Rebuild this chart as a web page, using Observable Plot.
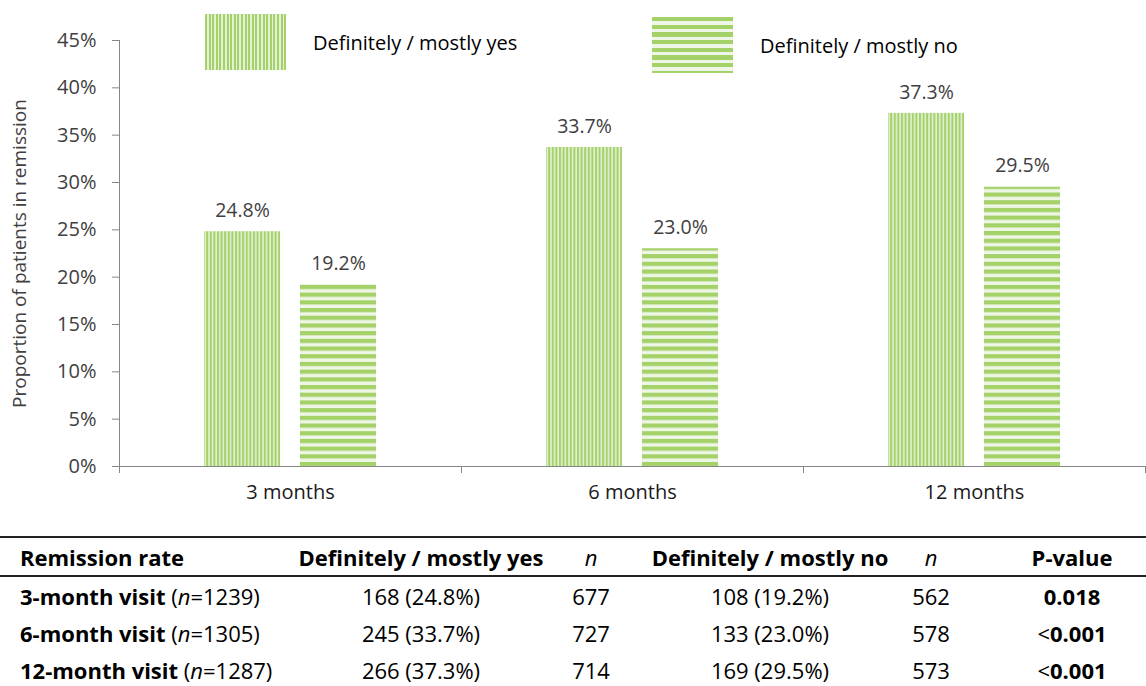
<!DOCTYPE html>
<html>
<head>
<meta charset="utf-8">
<script src="https://cdn.jsdelivr.net/npm/d3@7"></script>
<script src="https://cdn.jsdelivr.net/npm/@observablehq/plot@0.6"></script>
<style>
  html, body { margin: 0; padding: 0; background: #fff; }
  body { font-family: "Open Sans", Lato, sans-serif; width: 1146px; }
  #wrap { position: relative; width: 1146px; }
  .legend-item { position: absolute; display: flex; align-items: center; font-size: 20px; color: #000; }
  .swatch { width: 81px; height: 56px; margin-right: 27px; }
  .sw-yes { background: repeating-linear-gradient(90deg, #a4d168 0 2px, #e3f1d6 2px 3.6px); }
  .sw-no { background: repeating-linear-gradient(180deg, #a4d168 0 4.2px, #eef6e6 4.2px 7.7px); }
  table { border-collapse: collapse; table-layout: fixed; width: 1146px; margin-top: 20px; font-size: 22px; color: #000; }
  th, td { padding: 0; height: 37px; white-space: nowrap; text-align: center; }
  th { font-weight: bold; }
  thead tr { border-top: 2px solid #222; border-bottom: 2px solid #222; }
  .first { text-align: left; padding-left: 20px; }
  .pcol { padding-left: 46px; }
</style>
</head>
<body>
<div id="wrap"></div>
<script>
// Time points and response groups
const months = ["3 months", "6 months", "12 months"];
const groups = ["Definitely / mostly yes", "Definitely / mostly no"];
// Remission rates (%) per group
const yesPct = [24.8, 33.7, 37.3];
const noPct = [19.2, 23.0, 29.5];
// Y-axis tick values (%)
const yTicks = [0, 5, 10, 15, 20, 25, 30, 35, 40, 45];

// Table contents
const tableHeaders = ["Remission rate", "Definitely / mostly yes", "n", "Definitely / mostly no", "n", "P-value"];
const visitLabels = ["3-month visit", "6-month visit", "12-month visit"];
const visitN = [1239, 1305, 1287];
const yesCount = [168, 245, 266];
const yesN = [677, 727, 714];
const noCount = [108, 133, 169];
const noN = [562, 578, 573];
const pValues = ["0.018", "<0.001", "<0.001"];

const rows = months.flatMap((m, i) => [
  {month: m, group: groups[0], value: yesPct[i]},
  {month: m, group: groups[1], value: noPct[i]}
]);

const axisGray = "#868686";

const chart = Plot.plot({
  width: 1146,
  height: 516,
  marginLeft: 118,
  marginRight: 0,
  marginTop: 40,
  marginBottom: 50,
  style: {fontFamily: "'Open Sans', Lato, sans-serif", background: "#fff"},
  fx: {domain: months, padding: 0, label: null},
  x: {domain: groups, paddingInner: 0.21, paddingOuter: 0.88, axis: null},
  y: {domain: [0, 45], label: null},
  marks: [
    Plot.barY(rows.filter(d => d.group === groups[0]), {fx: "month", x: "group", y: "value", fill: "url(#vstripes)"}),
    Plot.barY(rows.filter(d => d.group === groups[1]), {fx: "month", x: "group", y: "value", fill: "url(#hstripes)"}),
    Plot.text(rows, {
      fx: "month", x: "group", y: "value",
      text: d => d.value.toFixed(1) + "%",
      dy: -21, fontSize: 19.5, fill: "#404040"
    }),
    Plot.ruleY([0], {stroke: axisGray}),
    Plot.axisY({
      ticks: yTicks, tickFormat: d => d + "%", tickSize: 7, tickPadding: 16,
      stroke: axisGray, color: "#404040", fontSize: 20,
      label: "Proportion of patients in remission", labelAnchor: "center",
      labelOffset: 107, labelArrow: "none"
    }),
    Plot.axisFx({anchor: "bottom", tickSize: 0, tickPadding: 18, fontSize: 20, color: "#1a1a1a", label: null})
  ]
});

const wrap = document.getElementById("wrap");
wrap.appendChild(chart);

// Stripe patterns, y-axis line and category boundary ticks
const svg = d3.select(chart);
svg.selectAll("text").filter(function () { return this.textContent === "Proportion of patients in remission"; })
  .attr("font-size", 19);
const defs = svg.insert("defs", ":first-child");
const v = defs.append("pattern").attr("id", "vstripes").attr("patternUnits", "userSpaceOnUse")
  .attr("width", 3.6).attr("height", 10);
v.append("rect").attr("width", 3.6).attr("height", 10).attr("fill", "#e3f1d6");
v.append("rect").attr("width", 2).attr("height", 10).attr("fill", "#a4d168");
const h = defs.append("pattern").attr("id", "hstripes").attr("patternUnits", "userSpaceOnUse")
  .attr("width", 10).attr("height", 7.7);
h.append("rect").attr("width", 10).attr("height", 7.7).attr("fill", "#eef6e6");
h.append("rect").attr("width", 10).attr("height", 4.2).attr("fill", "#a4d168");

const yS = chart.scale("y");
const fxS = chart.scale("fx");
const y0 = yS.apply(0), yTop = yS.apply(45);
const bounds = months.map(m => fxS.apply(m)).concat([fxS.apply(months[months.length - 1]) + fxS.bandwidth]);
const g = svg.append("g").attr("stroke", axisGray).attr("stroke-width", 1);
g.append("line").attr("x1", bounds[0] + 0.5).attr("x2", bounds[0] + 0.5).attr("y1", yTop).attr("y2", y0);
g.selectAll("line.bt").data(bounds).join("line").attr("class", "bt")
  .attr("x1", d => Math.min(d, 1145) + 0.5).attr("x2", d => Math.min(d, 1145) + 0.5)
  .attr("y1", y0).attr("y2", y0 + 7);

// Legend
const legendPos = [{left: 205, top: 14}, {left: 652, top: 17}];
groups.forEach((name, i) => {
  const item = document.createElement("div");
  item.className = "legend-item";
  item.style.left = legendPos[i].left + "px";
  item.style.top = legendPos[i].top + "px";
  const sw = document.createElement("div");
  sw.className = "swatch " + (i === 0 ? "sw-yes" : "sw-no");
  const lab = document.createElement("span");
  lab.textContent = name;
  item.appendChild(sw);
  item.appendChild(lab);
  wrap.appendChild(item);
});

// Summary table
const table = document.createElement("table");
const colWidths = [290, 262, 78, 280, 42, 194];
const colgroup = document.createElement("colgroup");
colWidths.forEach(w => { const c = document.createElement("col"); c.style.width = w + "px"; colgroup.appendChild(c); });
table.appendChild(colgroup);
const thead = document.createElement("thead");
const hr = document.createElement("tr");
tableHeaders.forEach((t, j) => {
  const th = document.createElement("th");
  if (t === "n") { th.innerHTML = "<i style='font-weight:normal'>n</i>"; }
  else th.textContent = t;
  if (j === 0) th.className = "first";
  if (j === 5) th.className = "pcol";
  hr.appendChild(th);
});
thead.appendChild(hr);
table.appendChild(thead);
const tbody = document.createElement("tbody");
visitLabels.forEach((label, i) => {
  const tr = document.createElement("tr");
  const c0 = document.createElement("td");
  c0.className = "first";
  c0.innerHTML = `<b>${label}</b> (<i>n</i>=${visitN[i]})`;
  tr.appendChild(c0);
  const yesPctText = yesPct[i].toFixed(1), noPctText = noPct[i].toFixed(1);
  [`${yesCount[i]} (${yesPctText}%)`, `${yesN[i]}`, `${noCount[i]} (${noPctText}%)`, `${noN[i]}`].forEach(t => {
    const td = document.createElement("td");
    td.textContent = t;
    tr.appendChild(td);
  });
  const pc = document.createElement("td");
  pc.className = "pcol";
  const p = pValues[i];
  pc.innerHTML = p.startsWith("<") ? `&lt;<b>${p.slice(1)}</b>` : `<b>${p}</b>`;
  tr.appendChild(pc);
  tbody.appendChild(tr);
});
table.appendChild(tbody);
document.body.appendChild(table);
</script>
</body>
</html>
